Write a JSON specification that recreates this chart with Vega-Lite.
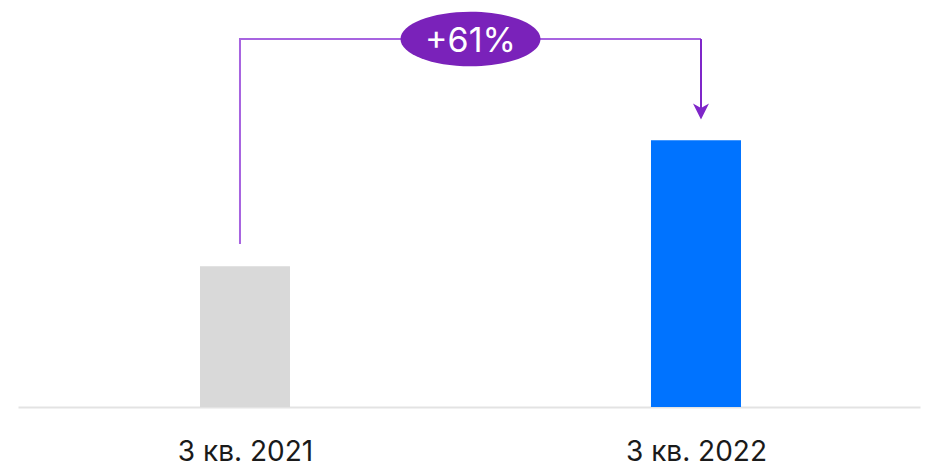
{
  "$schema": "https://vega.github.io/schema/vega-lite/v6.json",
  "width": 902,
  "height": 407,
  "autosize": {"type": "none"},
  "padding": {"left": 18, "top": 0, "right": 8, "bottom": 59},
  "background": "#ffffff",
  "config": {"view": {"stroke": null}},
  "datasets": {
    "bars": [
      {"pos": 1, "label": "3 кв. 2021", "value": 100, "kind": "prev"},
      {"pos": 2, "label": "3 кв. 2022", "value": 161, "kind": "curr"}
    ],
    "path": [
      {"pos": 0.98891, "value": 110.8, "seg": "connector", "ord": 1},
      {"pos": 0.98891, "value": 210.0, "seg": "connector", "ord": 2},
      {"pos": 2.01109, "value": 210.0, "seg": "connector", "ord": 3},
      {"pos": 2.01109, "value": 210.0, "seg": "arrow", "ord": 1},
      {"pos": 2.01109, "value": 176.0, "seg": "arrow", "ord": 2}
    ],
    "badge": [
      {"pos": 1.5, "value": 210.0, "text": "+61%", "textValue": 203.7}
    ],
    "head": [
      {"pos": 2.01109, "value": 174.9}
    ]
  },
  "layer": [
    {
      "data": {"name": "bars"},
      "mark": {"type": "bar", "width": 90},
      "encoding": {
        "x": {
          "field": "pos",
          "type": "quantitative",
          "scale": {"domain": [0.4967, 2.4967], "nice": false, "zero": false, "padding": 0},
          "axis": {
            "values": [1, 2],
            "labelExpr": "datum.value == 1 ? '3 кв. 2021' : '3 кв. 2022'",
            "title": null,
            "grid": false,
            "ticks": false,
            "tickSize": 0,
            "domainColor": "#e3e3e3",
            "domainWidth": 2,
            "labelFont": "Inter",
            "labelFontSize": 28,
            "labelColor": "#1a1a1a",
            "labelBaseline": "alphabetic",
            "labelPadding": 53,
            "labelFlush": false,
            "labelOverlap": false
          }
        },
        "y": {
          "field": "value",
          "type": "quantitative",
          "scale": {"domain": [31.9, 228.9], "nice": false, "zero": false, "padding": 0},
          "axis": null
        },
        "y2": {"datum": 31.9},
        "color": {
          "field": "kind",
          "type": "nominal",
          "scale": {"domain": ["prev", "curr"], "range": ["#d9d9d9", "#0073ff"]},
          "legend": null
        }
      }
    },
    {
      "data": {"name": "path"},
      "mark": {"type": "line", "strokeWidth": 2, "strokeCap": "butt", "strokeJoin": "miter"},
      "encoding": {
        "x": {"field": "pos", "type": "quantitative"},
        "y": {"field": "value", "type": "quantitative"},
        "order": {"field": "ord"},
        "detail": {"field": "seg"},
        "stroke": {
          "field": "seg",
          "type": "nominal",
          "scale": {"domain": ["connector", "arrow"], "range": ["#a764e0", "#7f26c9"]},
          "legend": null
        }
      }
    },
    {
      "data": {"name": "badge"},
      "mark": {
        "type": "point",
        "shape": "M-1,0A1,0.39 0 1,0 1,0A1,0.39 0 1,0 -1,0Z",
        "size": 19600,
        "filled": true,
        "fill": "#7a22ba",
        "opacity": 1,
        "strokeWidth": 0
      },
      "encoding": {
        "x": {"field": "pos", "type": "quantitative"},
        "y": {"field": "value", "type": "quantitative"}
      }
    },
    {
      "data": {"name": "badge"},
      "mark": {
        "type": "text",
        "font": "Inter",
        "fontSize": 34,
        "color": "#ffffff",
        "align": "center",
        "baseline": "alphabetic"
      },
      "encoding": {
        "x": {"field": "pos", "type": "quantitative"},
        "y": {"field": "textValue", "type": "quantitative"},
        "text": {"field": "text"}
      }
    },
    {
      "data": {"name": "head"},
      "mark": {
        "type": "point",
        "shape": "M-1,-1L0,-0.45L1,-1L0,1Z",
        "size": 256,
        "filled": true,
        "fill": "#7f26c9",
        "opacity": 1,
        "strokeWidth": 0
      },
      "encoding": {
        "x": {"field": "pos", "type": "quantitative"},
        "y": {"field": "value", "type": "quantitative"}
      }
    }
  ]
}
